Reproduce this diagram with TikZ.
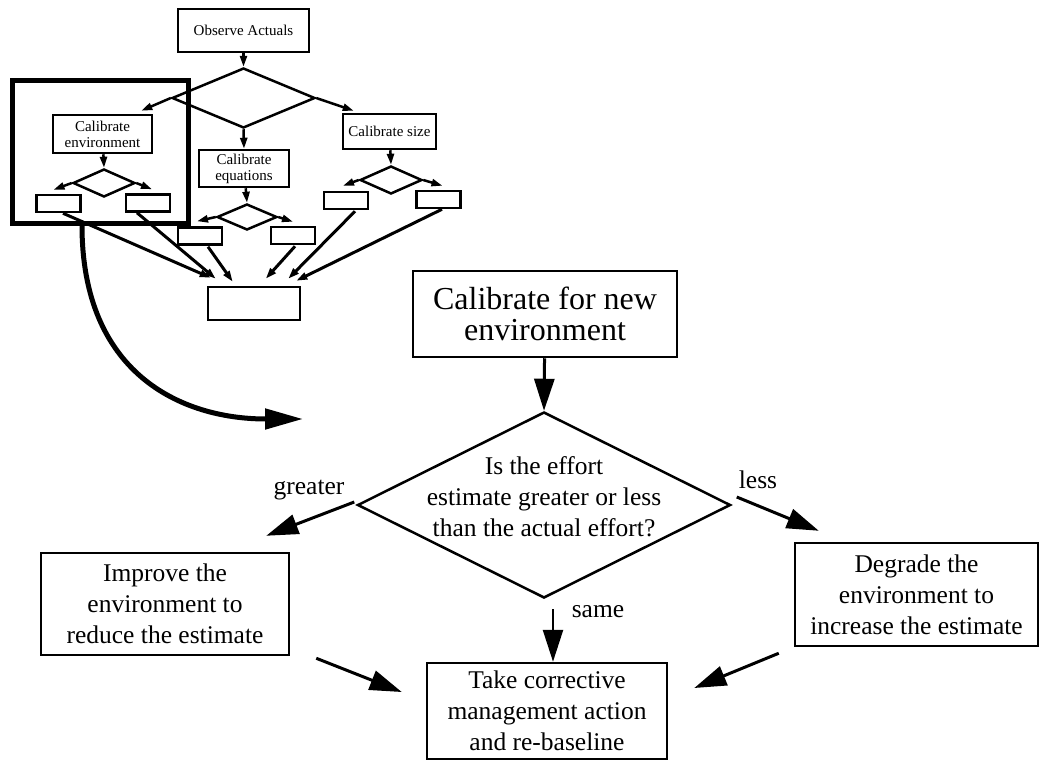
\documentclass[tikz,border=0pt]{standalone}
\usepackage{fontspec}
\setmainfont{Liberation Serif}
\usetikzlibrary{positioning,arrows.meta,shapes.geometric,calc}

\begin{document}
\begin{tikzpicture}[x=1pt, y=-1pt,
  box/.style={draw, line width=2.5pt, align=center, inner sep=2pt, font=\fontsize{25.5}{31}\selectfont},
  sbox/.style={draw, line width=2.5pt, align=center, inner sep=1pt, font=\fontsize{15}{16}\selectfont},
  tbox/.style={sbox, minimum width=44pt, minimum height=17pt},
  dia/.style={draw, diamond, line width=2.5pt, inner sep=0pt},
  lbl/.style={font=\fontsize{25.5}{31}\selectfont, align=center},
  arr/.style={-{Triangle[length=32pt, width=20pt]}, line width=3pt},
  sarr/.style={-{Triangle[length=11pt, width=7pt]}, line width=2.5pt}]
\useasboundingbox (0,0) rectangle (1039,761);
% overview chart
\node[sbox, minimum width=131pt, minimum height=43pt] (obs) at (243.5,30.5) {Observe Actuals};
\node[dia, minimum width=143pt, minimum height=60pt] (sel) at (243.5,98) {};
\node[draw, line width=5pt, minimum width=176pt, minimum height=143pt] (frame) at (100,151.5) {};
\node[sbox, minimum width=99pt, minimum height=38pt] (env) at (102.5,134) {Calibrate\\environment};
\node[sbox, minimum width=90pt, minimum height=37pt] (eq) at (244,168.5) {Calibrate\\equations};
\node[sbox, minimum width=93pt, minimum height=35pt] (siz) at (389.5,131.5) {Calibrate size};
\node[dia, minimum width=62pt, minimum height=28pt] (envd) at (104,183) {};
\node[dia, minimum width=60pt, minimum height=26pt] (eqd) at (247,217) {};
\node[dia, minimum width=62pt, minimum height=28pt] (sizd) at (391,180) {};
\node[tbox] (envl) at (58.5,203.5) {}; \node[tbox] (envr) at (148,203) {};
\node[tbox] (eql) at (200,236) {}; \node[tbox] (eqr) at (293,235.5) {};
\node[tbox] (sizl) at (346,200.5) {}; \node[tbox] (sizr) at (438.5,199.5) {};
\node[sbox, minimum width=92pt, minimum height=33pt] (coll) at (254,303.5) {};
\draw[sarr] (obs) -- (sel.north); \draw[sarr] (sel.south) -- (eq.north);
\draw[sarr] (sel.west) -- ($(env.north east)+(-12,-3)$); \draw[sarr] (sel.east) -- ($(siz.north west)+(12,-2)$);
\draw[sarr] (env) -- (envd.north); \draw[sarr] (eq) -- (eqd.north); \draw[sarr] (siz) -- (sizd.north);
\draw[sarr] (envd.west) -- ($(envl.north)+(-5,-4)$); \draw[sarr] (envd.east) -- ($(envr.north)+(4,-4)$);
\draw[sarr] (eqd.west) -- ($(eql.north)+(-3,-5)$); \draw[sarr] (eqd.east) -- ($(eqr.north)+(0,-4)$);
\draw[sarr] (sizd.west) -- ($(sizl.north)+(-3,-5)$); \draw[sarr] (sizd.east) -- ($(sizr.north)+(4,-4)$);
\draw[sarr, line width=3pt] ($(envl.south)+(4.5,0)$) -- ($(coll.north west)+(4,-8)$);
\draw[sarr, line width=3pt] ($(envr.south)+(-11,0)$) -- ($(coll.north west)+(9,-7)$);
\draw[sarr, line width=3pt] ($(eql.south)+(8,1)$) -- ($(coll.north west)+(26,-4)$);
\draw[sarr, line width=3pt] ($(eqr.south)+(2,1)$) -- ($(coll.north west)+(59,-7)$);
\draw[sarr, line width=3pt] ($(sizl.south)+(9,1)$) -- ($(coll.north east)+(-13,-7)$);
\draw[sarr, line width=3pt] ($(sizr.south)+(3.5,0)$) -- ($(coll.north east)+(-5,-5)$);
% zoom into the framed step
\coordinate (tip) at (303,419);
\draw[-{Triangle[length=38pt, width=20pt]}, line width=5pt] ($(frame.south)+(-18,0)$) .. controls ($(frame.south)+(-18,147)$) and ($(tip)+(-123,0)$) .. (tip);
% detailed chart
\node[box, font=\fontsize{32}{31}\selectfont, minimum width=264pt, minimum height=86pt] (cal) at (545,314) {Calibrate for new\\environment};
\node[dia, minimum width=373pt, minimum height=186pt] (dec) at (544,505) {};
\node[lbl] (dectxt) at (544,497) {Is the effort\\estimate greater or less\\than the actual effort?};
\node[box, minimum width=248pt, minimum height=102pt] (impr) at (165,604) {Improve the\\environment to\\reduce the estimate};
\node[box, minimum width=243pt, minimum height=103pt] (degr) at (916.5,594.5) {Degrade the\\environment to\\increase the estimate};
\node[box, minimum width=240pt, minimum height=96pt] (take) at (547,711) {Take corrective\\management action\\and re-baseline};
\node[lbl] (gr) at (309,490) {greater}; \node[lbl] (ls) at (758,480) {less}; \node[lbl] (sm) at (598,612) {same};
\draw[arr] (cal) -- (dec.north);
\draw[arr] ($(dec.west)+(-2,-3)$) -- ($(impr.north east)+(-24,-16)$);
\draw[arr] ($(dec.east)+(5,-8)$) -- ($(degr.north west)+(25,-11)$);
\draw[arr, line width=2.5pt] ($(dec.south)+(9,10)$) -- ($(take.north)+(6,0)$);
\draw[arr] ($(impr.south east)+(26,2)$) -- ($(take.west)+(-24,-19)$);
\draw[arr] ($(degr.south west)+(-15,6)$) -- ($(take.east)+(26,-23)$);
\end{tikzpicture}
\end{document}
